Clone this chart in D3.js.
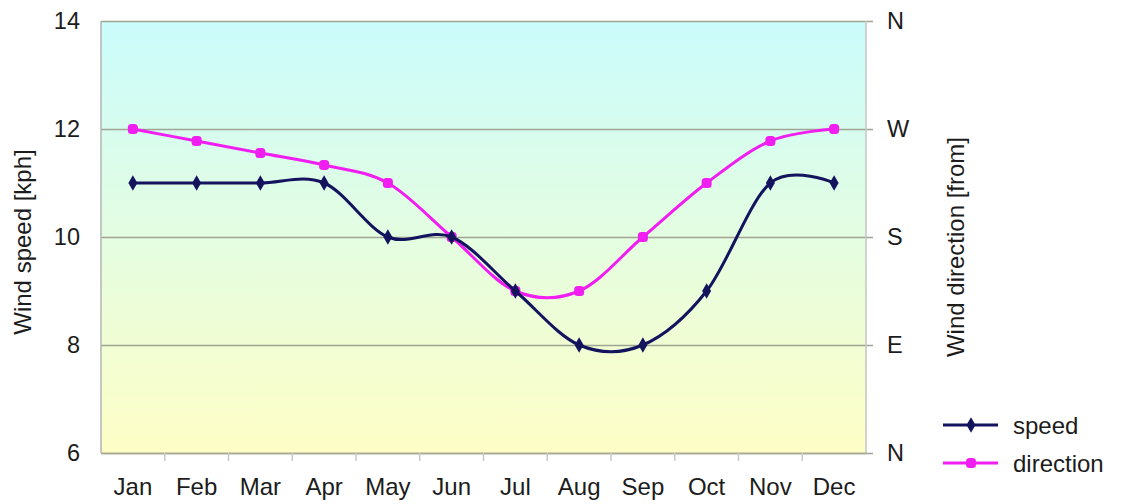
<!DOCTYPE html>
<html>
<head>
<meta charset="utf-8">
<script src="https://cdn.jsdelivr.net/npm/d3@7"></script>
<style>
  html, body { margin: 0; padding: 0; background: #ffffff; }
  svg { display: block; }
  text { font-family: "Liberation Sans", Arial, sans-serif; fill: #1c1c1c; }
</style>
</head>
<body>
<svg id="chart" width="1122" height="504"></svg>
<script>
// Monthly mean wind: speed in kph, prevailing direction in degrees (0 = N, 90 = E, 180 = S, 270 = W)
const months = ["Jan", "Feb", "Mar", "Apr", "May", "Jun", "Jul", "Aug", "Sep", "Oct", "Nov", "Dec"];
const speed = [11, 11, 11, 11, 10, 10, 9, 8, 8, 9, 11, 11];
const direction = [270, 260, 250, 240, 225, 180, 135, 135, 180, 225, 260, 270];
const speedTicks = [6, 8, 10, 12, 14];
const directionTicks = [0, 90, 180, 270, 360];
const directionLabels = ["N", "E", "S", "W", "N"];

const svg = d3.select("#chart");
const plot = { left: 101, right: 866, top: 21, bottom: 453 };
const fontSize = 24;
const tickFont = 23.5;

const x = d3.scaleBand().domain(months).range([plot.left, plot.right]).padding(0);
const cx = m => x(m) + x.bandwidth() / 2;
const yL = d3.scaleLinear().domain([6, 14]).range([plot.bottom, plot.top]);
const yR = d3.scaleLinear().domain([0, 360]).range([plot.bottom, plot.top]);

// Plot background: cyan at the top fading to pale yellow at the bottom
const defs = svg.append("defs");
const grad = defs.append("linearGradient").attr("id", "bg").attr("x1", 0).attr("y1", 0).attr("x2", 0).attr("y2", 1);
grad.append("stop").attr("offset", "0%").attr("stop-color", "#cafcfc");
grad.append("stop").attr("offset", "100%").attr("stop-color", "#fefec6");
svg.append("rect")
  .attr("x", plot.left).attr("y", plot.top)
  .attr("width", plot.right - plot.left).attr("height", plot.bottom - plot.top)
  .attr("fill", "url(#bg)");

// Horizontal gridlines, running a little past the right edge as direction ticks
const grid = svg.append("g")
  .attr("transform", `translate(${plot.left},0)`)
  .call(d3.axisRight(yL).tickValues(speedTicks).tickSize(plot.right - plot.left + 7).tickFormat(""));
grid.select(".domain").remove();
grid.selectAll("line").attr("stroke", "#9ea592").attr("stroke-width", 1.5);

// Plot frame sides
svg.append("line").attr("x1", plot.left).attr("x2", plot.left).attr("y1", plot.top).attr("y2", plot.bottom)
  .attr("stroke", "#b4b4b4").attr("stroke-width", 1.5);
svg.append("line").attr("x1", plot.right).attr("x2", plot.right).attr("y1", plot.top).attr("y2", plot.bottom)
  .attr("stroke", "#c4c4c4").attr("stroke-width", 1.5);

// Left axis: speed
const axL = svg.append("g")
  .attr("transform", `translate(${plot.left},0)`)
  .call(d3.axisLeft(yL).tickValues(speedTicks).tickSize(0).tickPadding(21).tickFormat(d3.format("d")));
axL.select(".domain").remove();
axL.selectAll("text").attr("font-size", tickFont).attr("fill", "#1c1c1c").attr("font-family", null);

// Right axis: direction
const axR = svg.append("g")
  .attr("transform", `translate(${plot.right},0)`)
  .call(d3.axisRight(yR).tickValues(directionTicks).tickSize(0).tickPadding(21)
    .tickFormat((d, i) => directionLabels[i]));
axR.select(".domain").remove();
axR.selectAll("text").attr("font-size", tickFont).attr("fill", "#1c1c1c").attr("font-family", null);

// Bottom axis: month labels with tick marks between categories
const axB = svg.append("g")
  .attr("transform", `translate(0,${plot.bottom})`)
  .call(d3.axisBottom(x).tickSize(0).tickPadding(25));
axB.select(".domain").attr("stroke", "#a8a890").attr("stroke-width", 1.5);
axB.selectAll("text").attr("font-size", fontSize).attr("fill", "#1c1c1c").attr("font-family", null);
svg.append("g").selectAll("line")
  .data(months.slice(1))
  .join("line")
  .attr("x1", d => x(d)).attr("x2", d => x(d))
  .attr("y1", plot.bottom).attr("y2", plot.bottom + 8)
  .attr("stroke", "#c8c8c8").attr("stroke-width", 1.5);

// Axis titles
svg.append("text")
  .attr("transform", "translate(22,242) rotate(-90)")
  .attr("text-anchor", "middle").attr("dominant-baseline", "central")
  .attr("font-size", fontSize).text("Wind speed [kph]");
svg.append("text")
  .attr("transform", "translate(955,247) rotate(-90)")
  .attr("text-anchor", "middle").attr("dominant-baseline", "central")
  .attr("font-size", fontSize).text("Wind direction [from]");

// Series
const speedColor = "#14145e";
const dirColor = "#f01ef0";
const curve = d3.curveCatmullRom.alpha(0);

const lineSpeed = d3.line().x((d, i) => cx(months[i])).y(d => yL(d)).curve(curve);
const lineDir = d3.line().x((d, i) => cx(months[i])).y(d => yR(d)).curve(curve);

const diamond = d3.symbol().type(d3.symbolDiamond).size(70);

svg.append("path").datum(direction)
  .attr("d", lineDir).attr("fill", "none").attr("stroke", dirColor).attr("stroke-width", 3);
svg.append("g").selectAll("rect")
  .data(direction)
  .join("rect")
  .attr("x", (d, i) => cx(months[i]) - 5).attr("y", d => yR(d) - 5)
  .attr("width", 10).attr("height", 10).attr("rx", 3.5)
  .attr("fill", dirColor);

svg.append("path").datum(speed)
  .attr("d", lineSpeed).attr("fill", "none").attr("stroke", speedColor).attr("stroke-width", 3);
svg.append("g").selectAll("path")
  .data(speed)
  .join("path")
  .attr("d", diamond)
  .attr("transform", (d, i) => `translate(${cx(months[i])},${yL(d)})`)
  .attr("fill", speedColor);

// Legend
const legend = svg.append("g");
const legendItems = [
  { name: "speed", color: speedColor, marker: "diamond", y: 425 },
  { name: "direction", color: dirColor, marker: "square", y: 463 }
];
legendItems.forEach(it => {
  legend.append("line").attr("x1", 943).attr("x2", 998).attr("y1", it.y).attr("y2", it.y)
    .attr("stroke", it.color).attr("stroke-width", 3);
  if (it.marker === "diamond") {
    legend.append("path").attr("d", diamond).attr("transform", `translate(971,${it.y})`).attr("fill", it.color);
  } else {
    legend.append("rect").attr("x", 966).attr("y", it.y - 5).attr("width", 10).attr("height", 10)
      .attr("rx", 3.5).attr("fill", it.color);
  }
  legend.append("text").attr("x", 1013).attr("y", it.y).attr("dominant-baseline", "central")
    .attr("font-size", fontSize).text(it.name);
});
</script>
</body>
</html>
